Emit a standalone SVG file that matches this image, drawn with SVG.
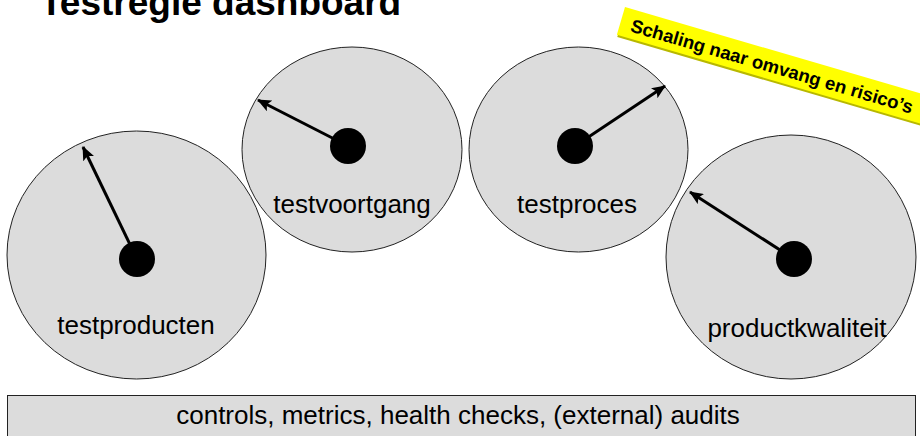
<svg xmlns="http://www.w3.org/2000/svg" width="920" height="436" viewBox="0 0 920 436">
<style>
.dial{fill:#dcdcdc;stroke:#222;stroke-width:1}
.hub{fill:#000}
.needle{stroke:#000;stroke-width:3;fill:none;marker-end:url(#ah)}
.lbl{font-family:"Liberation Sans",Arial,sans-serif;font-size:26px;fill:#000;text-anchor:middle}
.title{font-family:"Liberation Sans",Arial,sans-serif;font-size:37px;font-weight:bold;fill:#000}
.tag{font-family:"Liberation Sans",Arial,sans-serif;font-size:18.5px;font-weight:bold;fill:#000}
</style>
<defs>
<marker id="ah" markerUnits="userSpaceOnUse" markerWidth="14" markerHeight="12" refX="13" refY="6" orient="auto">
<path d="M0,0 L14,6 L0,12 L3,6 Z" fill="#000"/>
</marker>
</defs>
<rect width="920" height="436" fill="#fff"/>
<text class="title" x="40" y="15">Testregie dashboard</text>
<g id="tag">
<g transform="translate(625,7) rotate(16.3)">
<rect x="1" y="2" width="320" height="29" fill="#b8b800"/>
<rect x="0" y="0" width="320" height="29" fill="#ffff00"/>
<text class="tag" x="11" y="22">Schaling naar omvang en risico’s</text>
</g>
</g>
<g id="testproducten">
<ellipse class="dial" cx="136.5" cy="255" rx="129.5" ry="124"/>
<line class="needle" x1="137" y1="259" x2="83" y2="147"/>
<circle class="hub" cx="137" cy="259" r="18"/>
<text class="lbl" x="136" y="334">testproducten</text>
</g>
<g id="testvoortgang">
<ellipse class="dial" cx="352" cy="149.5" rx="110" ry="102.5"/>
<line class="needle" x1="348" y1="146" x2="258" y2="100"/>
<circle class="hub" cx="348" cy="146" r="18"/>
<text class="lbl" x="352" y="213">testvoortgang</text>
</g>
<g id="testproces">
<ellipse class="dial" cx="578.5" cy="149.5" rx="109.5" ry="102.5"/>
<line class="needle" x1="575" y1="146" x2="665" y2="86"/>
<circle class="hub" cx="575" cy="146" r="18"/>
<text class="lbl" x="577" y="213">testproces</text>
</g>
<g id="productkwaliteit">
<ellipse class="dial" cx="791" cy="257" rx="125" ry="122"/>
<line class="needle" x1="794" y1="259" x2="690" y2="192"/>
<circle class="hub" cx="794" cy="259" r="18"/>
<text class="lbl" x="797" y="337">productkwaliteit</text>
</g>
<g id="controls">
<rect class="dial" x="7.5" y="395.5" width="908" height="50"/>
<text class="lbl" x="458" y="424">controls, metrics, health checks, (external) audits</text>
</g>
<g id="connectors"/>
</svg>
